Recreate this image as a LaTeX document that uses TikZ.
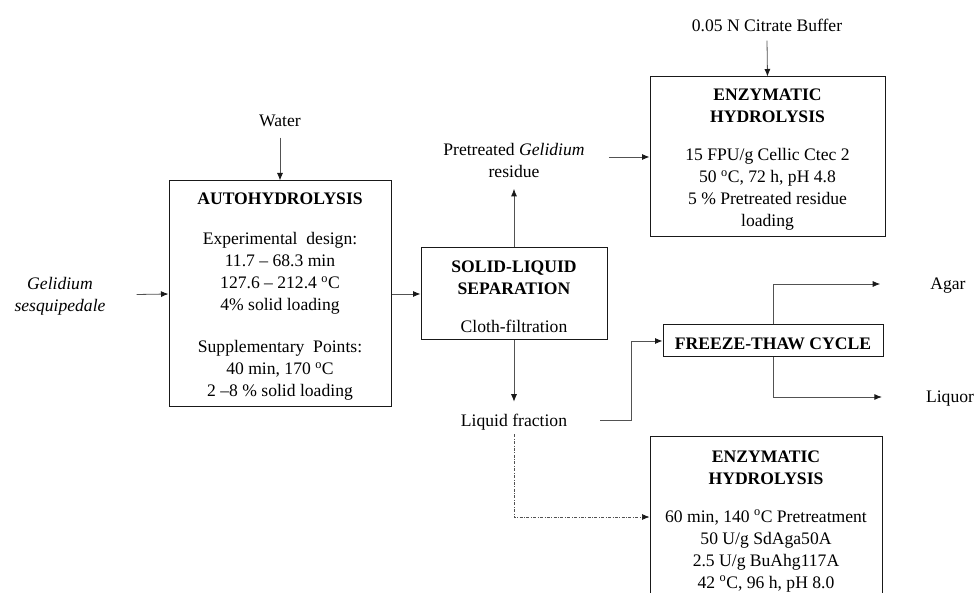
\documentclass[tikz,border=0pt]{standalone}
\usepackage{fontspec}
\setmainfont{Liberation Serif}
\usetikzlibrary{arrows.meta}
\newcommand{\topstrut}{\rule{0pt}{17pt}}
\begin{document}
\begin{tikzpicture}[x=1pt,y=-1pt,
  every node/.style={font=\fontsize{17.6}{22}\selectfont, align=center, inner sep=0pt},
  box/.style={draw=black!90, line width=1pt},
  tip/.style={-{Latex[length=7.5pt,width=6pt,color=black!90]}},
  arr/.style={draw=black!68, line width=0.8pt, tip},
  dotarr/.style={draw=black!68, line width=0.7pt, dash pattern=on 3pt off 1.5pt on 0.8pt off 1.5pt, tip},
]
\useasboundingbox (0,0) rectangle (975,593);

% labels
\node (water) at (280,120.5) {Water};
\node[font=\fontsize{17.6}{22}\selectfont\itshape] (gel) at (60,296.5) {Gelidium\\sesquipedale};
\node (cit) at (767,25) {0.05 N Citrate Buffer};
\node (pre) at (514,160.5) {Pretreated \textit{Gelidium}\\residue};
\node (liq) at (514,422) {Liquid fraction};
\node (agar) at (948,286) {Agar};
\node (liquor) at (950,399) {Liquor};

% boxes
\node[box, minimum width=222pt, minimum height=226pt] (auto) at (280,294)
  {\topstrut\textbf{AUTOHYDROLYSIS}\\[18pt]
   Experimental\ \ design:\\
   11.7 – 68.3 min\\
   127.6 – 212.4 \textsuperscript{o}C\\
   4\% solid loading\\[20pt]
   Supplementary\ \ Points:\\
   40 min, 170 \textsuperscript{o}C\\
   2 –8 \% solid loading};

\node[box, minimum width=186pt, minimum height=92pt] (sls) at (514,294)
  {\topstrut\textbf{SOLID-LIQUID}\\
   \textbf{SEPARATION}\\[16pt]
   Cloth-filtration};

\node[box, minimum width=235pt, minimum height=160pt] (eh1) at (767.5,157)
  {\topstrut\textbf{ENZYMATIC}\\
   \textbf{HYDROLYSIS}\\[16pt]
   15 FPU/g Cellic Ctec 2\\
   50 \textsuperscript{o}C, 72 h, pH 4.8\\
   5 \% Pretreated residue\\
   loading};

\node[box, minimum width=220pt, minimum height=32pt] (ftc) at (773,341)
  {\topstrut\textbf{FREEZE-THAW CYCLE}};

\begin{scope}
\clip (0,0) rectangle (975,593);
\node[box, minimum width=232pt, minimum height=163pt] (eh2) at (766,518.5)
  {\topstrut\textbf{ENZYMATIC}\\
   \textbf{HYDROLYSIS}\\[16pt]
   60 min, 140 \textsuperscript{o}C Pretreatment\\
   50 U/g SdAga50A\\
   2.5 U/g BuAhg117A\\
   42 \textsuperscript{o}C, 96 h, pH 8.0};
\end{scope}

% connectors
\draw[arr] ([yshift=-11pt]water.south) -- (auto.north);
\draw[arr] ([xshift=31pt,yshift=2pt]gel.east) -- (auto.west);
\draw[arr] (auto.east) -- (sls.west);
\draw[arr] (sls.north) -- ([yshift=-11pt]pre.south);
\draw[arr] ([xshift=24pt,yshift=3.5pt]pre.east) -- (eh1.west);
\draw[arr] ([yshift=-9pt]cit.south) -- (eh1.north);
\draw[arr] (sls.south) -- ([yshift=12pt]liq.north);
\draw[arr] ([xshift=33pt,yshift=2pt]liq.east) -- ++(31,0) |- (ftc.west);
\draw[arr] (ftc.north) |- ([xshift=-50pt,yshift=2pt]agar.west);
\draw[arr] (ftc.south) |- ([xshift=-44pt,yshift=2pt]liquor.west);
\draw[dotarr] ([yshift=-4pt]liq.south) |- ([yshift=1.5pt]eh2.west);
\end{tikzpicture}
\end{document}
